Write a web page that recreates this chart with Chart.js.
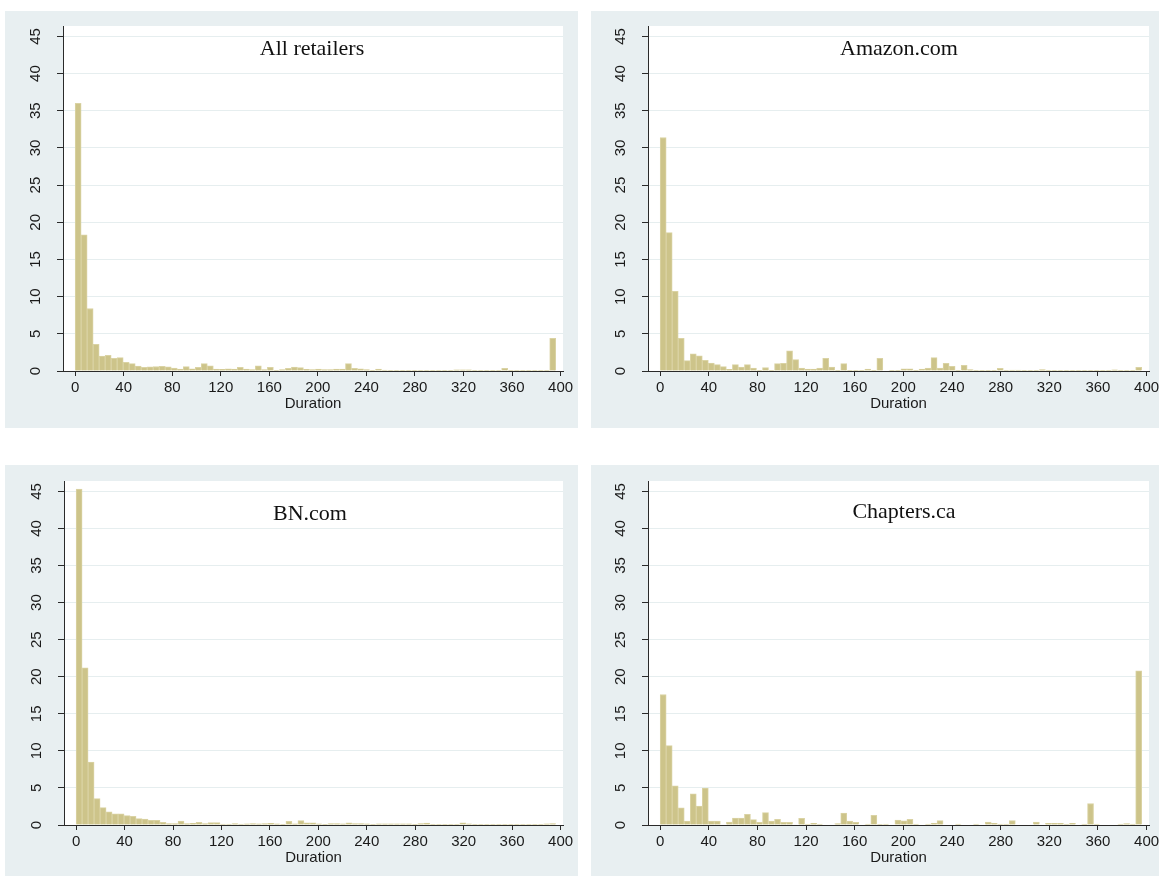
<!DOCTYPE html>
<html><head><meta charset="utf-8">
<script src="https://cdn.jsdelivr.net/npm/chart.js@4.4.1/dist/chart.umd.min.js"></script>
<style>
body{margin:0;background:#fff;width:1159px;height:876px;position:relative;overflow:hidden}
.panel{position:absolute;background:#e8eff1}
.panel canvas{position:absolute;left:0;top:0}
.title{position:absolute;width:300px;text-align:center;font-family:"Liberation Serif","Times New Roman",serif;font-size:22px;line-height:22px;color:#111;white-space:nowrap}
</style></head><body>
<div class="panel" style="left:5px;top:11px;width:573px;height:417px"><canvas id="c1" width="573" height="417"></canvas></div>
<div class="panel" style="left:591px;top:11px;width:568px;height:417px"><canvas id="c2" width="568" height="417"></canvas></div>
<div class="panel" style="left:5px;top:465px;width:573px;height:411px"><canvas id="c3" width="573" height="411"></canvas></div>
<div class="panel" style="left:591px;top:465px;width:568px;height:411px"><canvas id="c4" width="568" height="411"></canvas></div>
<div class="title" style="left:162px;top:37px">All retailers</div>
<div class="title" style="left:749px;top:37px">Amazon.com</div>
<div class="title" style="left:160px;top:502px">BN.com</div>
<div class="title" style="left:754px;top:500px">Chapters.ca</div>
<script>
// Histogram bins: 80 bins of equal width starting at 0
const BIN_WIDTH = 4.95;
const xTicks = [0, 40, 80, 120, 160, 200, 240, 280, 320, 360, 400];
const yTicks = [0, 5, 10, 15, 20, 25, 30, 35, 40, 45];
const titles = ['All retailers', 'Amazon.com', 'BN.com', 'Chapters.ca'];

const allRetailers = [36.0, 18.3, 8.4, 3.6, 2.0, 2.1, 1.7, 1.8, 1.15, 1.0,
  0.65, 0.5, 0.55, 0.6, 0.62, 0.55, 0.38, 0.27, 0.58, 0.3,
  0.5, 1.0, 0.68, 0.27, 0.22, 0.3, 0.27, 0.5, 0.27, 0.2,
  0.7, 0.2, 0.5, 0.1, 0.2, 0.36, 0.54, 0.45, 0.22, 0.2,
  0.27, 0.2, 0.2, 0.27, 0.27, 1.0, 0.36, 0.3, 0.2, 0.1,
  0.27, 0.13, 0.1, 0.1, 0.1, 0.1, 0.1, 0.1, 0.1, 0.1,
  0.05, 0.05, 0.05, 0.15, 0.15, 0.15, 0.05, 0.05, 0.05, 0.05,
  0.05, 0.36, 0.05, 0.05, 0.1, 0.1, 0.1, 0.1, 0.1, 4.4];

const amazon = [31.4, 18.6, 10.7, 4.4, 1.4, 2.3, 2.05, 1.45, 1.07, 0.85,
  0.58, 0.22, 0.85, 0.54, 0.85, 0.4, 0.1, 0.45, 0.05, 1.0,
  1.03, 2.7, 1.52, 0.4, 0.27, 0.27, 0.4, 1.7, 0.54, 0.1,
  1.0, 0.1, 0.1, 0.05, 0.27, 0.02, 1.7, 0, 0.05, 0.05,
  0.3, 0.3, 0.05, 0.27, 0.4, 1.8, 0.4, 1.03, 0.63, 0.05,
  0.76, 0.18, 0.05, 0.05, 0.05, 0.05, 0.36, 0.1, 0.13, 0.13,
  0.03, 0.03, 0.03, 0.18, 0.1, 0.05, 0.05, 0.1, 0.05, 0.05,
  0.05, 0.1, 0.05, 0.05, 0.1, 0.15, 0.1, 0.05, 0.05, 0.5];

const bn = [45.3, 21.2, 8.5, 3.56, 2.34, 1.76, 1.49, 1.49, 1.26, 1.17,
  0.86, 0.81, 0.63, 0.63, 0.36, 0.18, 0.18, 0.54, 0.18, 0.22,
  0.36, 0.18, 0.32, 0.32, 0.13, 0.13, 0.2, 0.13, 0.15, 0.2,
  0.15, 0.2, 0.22, 0.15, 0.1, 0.5, 0.15, 0.58, 0.3, 0.3,
  0.15, 0.1, 0.2, 0.2, 0.15, 0.3, 0.2, 0.2, 0.15, 0.1,
  0.15, 0.15, 0.15, 0.15, 0.15, 0.15, 0.1, 0.2, 0.25, 0.1,
  0.1, 0.1, 0.1, 0.1, 0.3, 0.15, 0.05, 0.1, 0.1, 0.1,
  0.1, 0.1, 0.1, 0.1, 0.1, 0.1, 0.05, 0.1, 0.15, 0.2];

const chapters = [17.6, 10.7, 5.3, 2.3, 0.54, 4.2, 2.56, 4.98, 0.54, 0.54,
  0, 0.4, 0.94, 0.94, 1.43, 0.72, 0.36, 1.66, 0.54, 0.76,
  0.36, 0.36, 0, 0.9, 0.13, 0.22, 0.13, 0, 0, 0.18,
  1.6, 0.54, 0.36, 0, 0.13, 1.3, 0.1, 0.13, 0, 0.67,
  0.55, 0.75, 0.13, 0, 0.13, 0.22, 0.58, 0, 0, 0.13,
  0, 0, 0.13, 0, 0.4, 0.22, 0.13, 0.13, 0.6, 0,
  0, 0, 0.4, 0, 0.22, 0.22, 0.22, 0.13, 0.22, 0,
  0.13, 2.9, 0.13, 0, 0, 0, 0.13, 0.2, 0.13, 20.8];

const binStarts = allRetailers.map((_, i) => i * BIN_WIDTH);

const X_MIN = -10, X_MAX = 402, Y_MAX = 46.4;
const BAR_FILL = '#cdc48a';
const BAR_EDGE = '#dad3a4';
const AXIS = '#2a2a2a';
const GRID = '#e6eeef';
const TEXT = '#1a1a1a';
const FONT = { family: '"Liberation Sans", Arial, sans-serif', size: 15 };

const plotBg = {
  id: 'plotBg',
  beforeDraw(chart) {
    const { ctx, chartArea: a } = chart;
    ctx.save();
    ctx.fillStyle = '#ffffff';
    ctx.fillRect(a.left, a.top, a.right - a.left, a.bottom - a.top);
    ctx.restore();
  }
};

function makeChart(id, values, L) {
  return new Chart(document.getElementById(id), {
    type: 'bar',
    plugins: [plotBg],
    data: {
      datasets: [{
        data: values.map((v, i) => ({ x: binStarts[i] + BIN_WIDTH / 2, y: v })),
        backgroundColor: BAR_FILL,
        borderColor: BAR_EDGE,
        borderWidth: 1,
        barPercentage: 1,
        categoryPercentage: 1
      }]
    },
    options: {
      responsive: false,
      animation: false,
      events: [],
      layout: { padding: { left: 0, top: L.top, right: L.right, bottom: 0 } },
      plugins: { legend: { display: false }, tooltip: { enabled: false } },
      scales: {
        x: {
          type: 'linear', min: X_MIN, max: X_MAX, offset: false,
          afterBuildTicks: s => { s.ticks = xTicks.map(v => ({ value: v })); },
          afterFit: s => { s.height = L.bottom; s.paddingLeft = 0; s.paddingRight = 0; },
          grid: { offset: false, drawOnChartArea: false, tickLength: 5, tickColor: AXIS, tickWidth: 1 },
          border: { color: AXIS, width: 1 },
          ticks: { font: FONT, color: TEXT, padding: 3, minRotation: 0, maxRotation: 0, autoSkip: false },
          title: { display: true, text: 'Duration', font: FONT, color: TEXT, padding: { top: 0, bottom: L.titlePad } }
        },
        y: {
          min: 0, max: Y_MAX,
          afterBuildTicks: s => { s.ticks = yTicks.map(v => ({ value: v })); },
          afterFit: s => { s.width = L.left; s.paddingTop = 0; s.paddingBottom = 0; },
          grid: { color: GRID, tickColor: AXIS, tickLength: 6, lineWidth: 1, tickWidth: 1 },
          border: { color: AXIS, width: 1 },
          ticks: { minRotation: 90, maxRotation: 90, crossAlign: 'center', padding: 13, font: FONT, color: TEXT, autoSkip: false }
        }
      }
    }
  });
}

makeChart('c1', allRetailers, { top: 15, right: 15, left: 58, bottom: 57, titlePad: 15.5 });
makeChart('c2', amazon, { top: 15, right: 10, left: 57, bottom: 57, titlePad: 15.5 });
makeChart('c3', bn, { top: 16, right: 15, left: 59, bottom: 51, titlePad: 9.5 });
makeChart('c4', chapters, { top: 16, right: 10, left: 57, bottom: 51, titlePad: 9.5 });
</script>
</body></html>
